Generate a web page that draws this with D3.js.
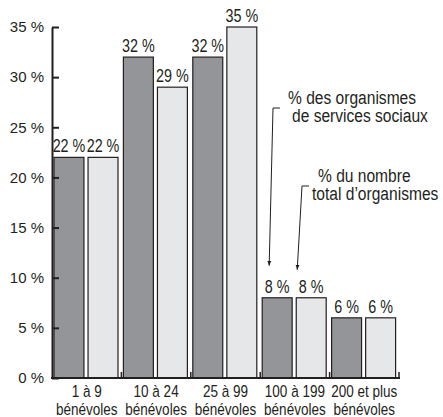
<!DOCTYPE html>
<html>
<head>
<meta charset="utf-8">
<script src="https://cdn.jsdelivr.net/npm/d3@7"></script>
<style>
  body { margin: 0; background: #fff; }
  text { fill: #231f20; font-family: 'Liberation Sans', Arial, sans-serif; }
</style>
</head>
<body>
<script>
var width = 443;
var height = 417;

var categories = ["1 à 9|bénévoles", "10 à 24|bénévoles", "25 à 99|bénévoles", "100 à 199|bénévoles", "200 et plus|bénévoles"];
var seriesNames = ["% des organismes|de services sociaux", "% du nombre|total d’organismes"];
var socialValues = [22, 32, 32, 8, 6];
var totalValues = [22, 29, 35, 8, 6];
var yTicks = [0, 5, 10, 15, 20, 25, 30, 35];

var ink = "#231f20";
var colors = ["#939598", "#e6e7e8"];
var squeeze = 0.82; // the original type is a condensed face

var svg = d3.select("body").append("svg")
	.attr("width", width)
	.attr("height", height);

var x0 = d3.scaleBand()
	.domain(categories)
	.range([52, 399]);

var x1 = d3.scaleBand()
	.domain([0, 1])
	.range([2, 66])
	.paddingInner(0.12);

var y = d3.scaleLinear()
	.domain([0, 35])
	.range([378, 27]);

var rows = categories.map(function(c, i){
	return {cat: c, vals: [socialValues[i], totalValues[i]]};
});

// condensed text: a group that is squeezed horizontally
function narrowText(parent, x, yy, size, anchor){
	return parent.append("g")
		.attr("transform", "translate(" + x + "," + yy + ") scale(" + squeeze + ",1)")
		.append("text")
			.attr("text-anchor", anchor)
			.style("font-size", size + "px");
}

// bars
var groups = svg.selectAll("g.grp")
	.data(rows)
	.enter().append("g")
		.attr("class", "grp")
		.attr("transform", function(d){ return "translate(" + x0(d.cat) + ",0)"; });

groups.selectAll("rect")
	.data(function(d){ return d.vals; })
	.enter().append("rect")
		.attr("x", function(d, i){ return x1(i); })
		.attr("y", function(d){ return y(d); })
		.attr("width", x1.bandwidth())
		.attr("height", function(d){ return y(0) - y(d); })
		.attr("fill", function(d, i){ return colors[i]; })
		.attr("stroke", ink)
		.attr("stroke-width", 1.2);

groups.each(function(d){
	var g = d3.select(this);
	d.vals.forEach(function(v, i){
		narrowText(g, x1(i) + x1.bandwidth() / 2, y(v) - 5, 17.5, "middle")
			.text(v + " %");
	});
});

// y axis
var yAxis = d3.axisLeft(y)
	.tickValues(yTicks)
	.tickSizeInner(-7)
	.tickSizeOuter(0)
	.tickPadding(8)
	.tickFormat(function(d){ return d + " %"; });

var ya = svg.append("g")
	.attr("transform", "translate(52,0)")
	.call(yAxis);
ya.select(".domain").attr("stroke", ink).attr("stroke-width", 2);
ya.selectAll(".tick line").attr("stroke", ink).attr("stroke-width", 2);
ya.selectAll(".tick text")
	.style("font-family", "'Liberation Sans', Arial, sans-serif")
	.style("font-size", "15px")
	.attr("fill", ink);

// x baseline with small upward ticks between groups
svg.append("line")
	.attr("x1", 51).attr("x2", x0.range()[1] + 1)
	.attr("y1", y(0)).attr("y2", y(0))
	.attr("stroke", ink).attr("stroke-width", 2);

svg.selectAll("line.xt")
	.data(categories)
	.enter().append("line")
		.attr("class", "xt")
		.attr("x1", function(d){ return x0(d) + x0.bandwidth(); })
		.attr("x2", function(d){ return x0(d) + x0.bandwidth(); })
		.attr("y1", y(0))
		.attr("y2", y(0) - 6)
		.attr("stroke", ink).attr("stroke-width", 1.5);

categories.forEach(function(c){
	var parts = c.split("|");
	var t = narrowText(svg, x0(c) + x0.bandwidth() / 2, 397, 16.5, "middle");
	t.append("tspan").attr("x", 0).attr("y", 0).text(parts[0]);
	t.append("tspan").attr("x", 0).attr("y", 18).text(parts[1]);
});

// annotations with leader arrows
svg.append("defs").append("marker")
	.attr("id", "arr")
	.attr("viewBox", "0 0 10 10")
	.attr("refX", 10).attr("refY", 5)
	.attr("markerWidth", 5).attr("markerHeight", 5)
	.attr("orient", "auto")
	.append("path")
		.attr("d", "M0,1L10,5L0,9z")
		.attr("fill", ink);

var notes = [
	{tx: 288, ty: 104, dx2: 4, stubY: 108, stubX: 273, tipDx: -8, tipDy: -32},
	{tx: 318, ty: 182, dx2: -6, stubY: 186, stubX: 302, tipDx: -14, tipDy: -28}
];

notes.forEach(function(n, i){
	var parts = seriesNames[i].split("|");
	var t = narrowText(svg, n.tx, n.ty, 19, "start");
	t.append("tspan").attr("x", 0).attr("y", 0).text(parts[0]);
	t.append("tspan").attr("x", n.dx2 / squeeze).attr("y", 18).text(parts[1]);

	var cat = categories[3];
	var v = i == 0 ? socialValues[3] : totalValues[3];
	var tipX = x0(cat) + x1(i) + x1.bandwidth() / 2 + n.tipDx;
	var tipY = y(v) + n.tipDy;
	svg.append("path")
		.attr("d", "M" + (n.stubX + 7) + "," + n.stubY + "H" + n.stubX + "L" + tipX + "," + tipY)
		.attr("fill", "none")
		.attr("stroke", ink)
		.attr("stroke-width", 1)
		.attr("marker-end", "url(#arr)");
});
</script>
</body>
</html>
